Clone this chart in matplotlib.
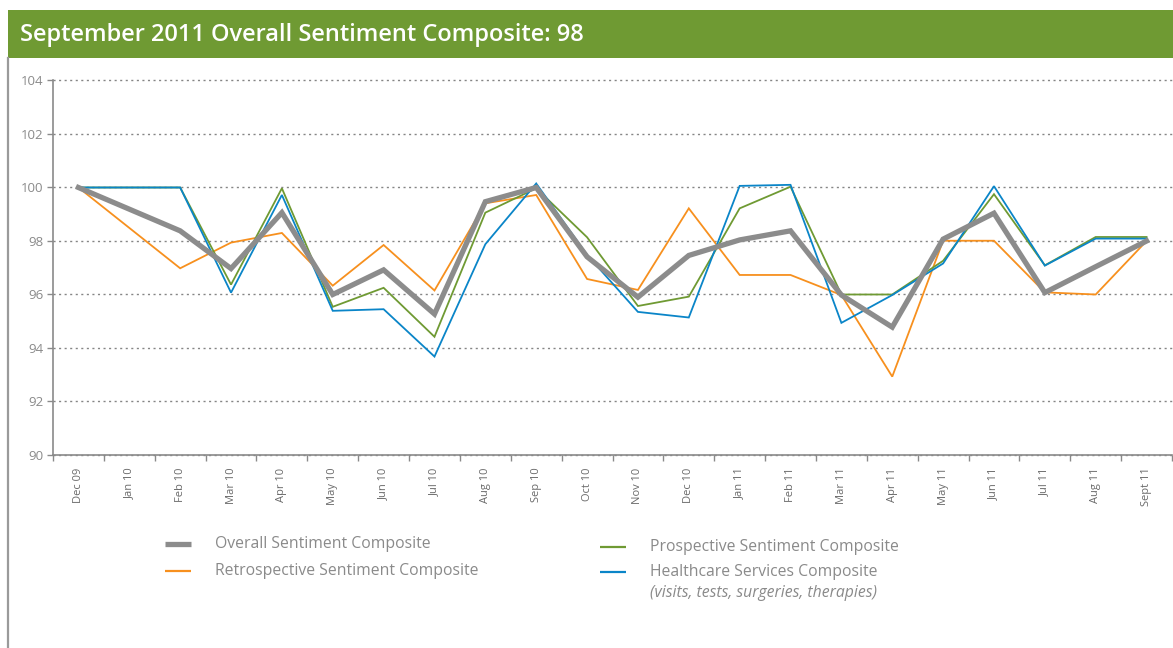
import numpy as np
import matplotlib
matplotlib.use("Agg")
import matplotlib.pyplot as plt
from matplotlib.lines import Line2D
from matplotlib.patches import Rectangle

months = ["Dec 09", "Jan 10", "Feb 10", "Mar 10", "Apr 10", "May 10", "Jun 10",
          "Jul 10", "Aug 10", "Sep 10", "Oct 10", "Nov 10", "Dec 10", "Jan 11",
          "Feb 11", "Mar 11", "Apr 11", "May 11", "Jun 11", "Jul 11", "Aug 11", "Sept 11"]

overall = [100.0, None, 98.38, 96.97, 99.06, 96.0, 96.92, 95.27, 99.47, 100.0,
           97.41, 95.9, 97.46, 98.04, 98.38, 95.98, 94.78, 98.07, 99.04, 96.07, 97.04, 98.0]
retrospective = [100.0, None, 96.98, 97.94, 98.3, 96.33, 97.85, 96.15, 99.41, 99.72,
                 96.58, 96.17, 99.22, 96.73, 96.73, 95.98, 92.93, 98.01, 98.01, 96.08, 96.0, 98.0]
prospective = [100.0, None, 100.0, 96.37, 99.97, 95.54, 96.25, 94.42, 99.06, 99.97,
               98.14, 95.57, 95.92, 99.22, 100.03, 96.0, 96.0, 97.26, 99.75, 97.09, 98.15, 98.15]
healthcare = [100.0, None, 100.0, 96.07, 99.72, 95.39, 95.45, 93.68, 97.88, 100.15,
              97.48, 95.35, 95.14, 100.06, 100.1, 94.94, 95.98, 97.16, 100.05, 97.08, 98.09, 98.09]

y_ticks = [90, 92, 94, 96, 98, 100, 102, 104]

title = "September 2011 Overall Sentiment Composite: 98"

C_GRAY = "#8c8c8c"
C_ORANGE = "#f7901e"
C_GREEN = "#6f9a33"
C_BLUE = "#0a85c8"
C_TEXT = "#8a8a8a"

W, H = 1173, 648
fig = plt.figure(figsize=(W / 100, H / 100), dpi=100)
fig.patch.set_facecolor("white")

# Title bar
fig.patches.append(Rectangle((8 / W, 1 - 58 / H), 1 - 8 / W, 48 / H,
                             transform=fig.transFigure, facecolor="#6f9a33",
                             edgecolor="none", zorder=0))
fig.text(20 / W, 1 - 35 / H, title, color="white", fontsize=17,
         fontweight="semibold", family="Open Sans", va="center", ha="left")
# left border line
fig.add_artist(Line2D([8 / W, 8 / W], [0, 1 - 58 / H], transform=fig.transFigure,
                      color="#9a9a9a", lw=1.6))

left, right, top, bottom = 53, 1172, 80.5, 455
ax = fig.add_axes([left / W, 1 - bottom / H, (right - left) / W, (bottom - top) / H])

x = np.arange(len(months))


def draw(series, color, lw, z):
    vals = np.array([np.nan if v is None else v for v in series], dtype=float)
    m = ~np.isnan(vals)
    ax.plot(x[m], vals[m], color=color, lw=lw, zorder=z, solid_joinstyle="miter")


draw(retrospective, C_ORANGE, 1.3, 3)
draw(prospective, C_GREEN, 1.3, 4)
draw(healthcare, C_BLUE, 1.3, 5)
draw(overall, C_GRAY, 3.8, 6)

ax.set_xlim(-0.5, len(months) - 0.5)
ax.set_ylim(90, 104)
ax.set_yticks(y_ticks)
ax.set_yticklabels([str(v) for v in y_ticks], color=C_TEXT, fontsize=9.5, family="Open Sans")
ax.yaxis.grid(True, linestyle=(0, (1.5, 2.5)), color="#858585", lw=1.0)
ax.set_axisbelow(True)
for gl in ax.get_ygridlines():
    gl.set_clip_on(False)

ax.set_xticks(x)
ax.set_xticklabels(months, rotation=90, fontsize=8, color="#6a6a6a", family="Open Sans")
ax.set_xticks(np.arange(-0.5, len(months), 1), minor=True)
ax.tick_params(axis="x", which="major", length=0, pad=9)
ax.tick_params(axis="x", which="minor", length=4, color="#8a8a8a", width=1)
ax.tick_params(axis="y", length=4, color="#8a8a8a", width=1, pad=3)

for s in ["top", "right"]:
    ax.spines[s].set_visible(False)
for s in ["left", "bottom"]:
    ax.spines[s].set_color("#8a8a8a")
    ax.spines[s].set_linewidth(1.2)

# Legend
def leg(xh, y, color, lw, label, italic_sub=None):
    fy = 1 - y / H
    fig.add_artist(Line2D([xh / W, (xh + 26) / W], [fy, fy], transform=fig.transFigure,
                          color=color, lw=lw, solid_capstyle="butt"))
    fig.text((xh + 50) / W, fy, label, color=C_TEXT, fontsize=11.3, family="Open Sans",
             va="center", ha="left")
    if italic_sub:
        fig.text((xh + 50) / W, fy - 21 / H, italic_sub, color=C_TEXT, fontsize=11.3,
                 family="Open Sans", style="italic", va="center", ha="left")


leg(165, 544, C_GRAY, 3.8, "Overall Sentiment Composite")
leg(165, 571, C_ORANGE, 1.6, "Retrospective Sentiment Composite")
leg(600, 547, C_GREEN, 1.6, "Prospective Sentiment Composite")
leg(600, 572, C_BLUE, 1.6, "Healthcare Services Composite",
    "(visits, tests, surgeries, therapies)")

fig.savefig("out.png", dpi=100)
